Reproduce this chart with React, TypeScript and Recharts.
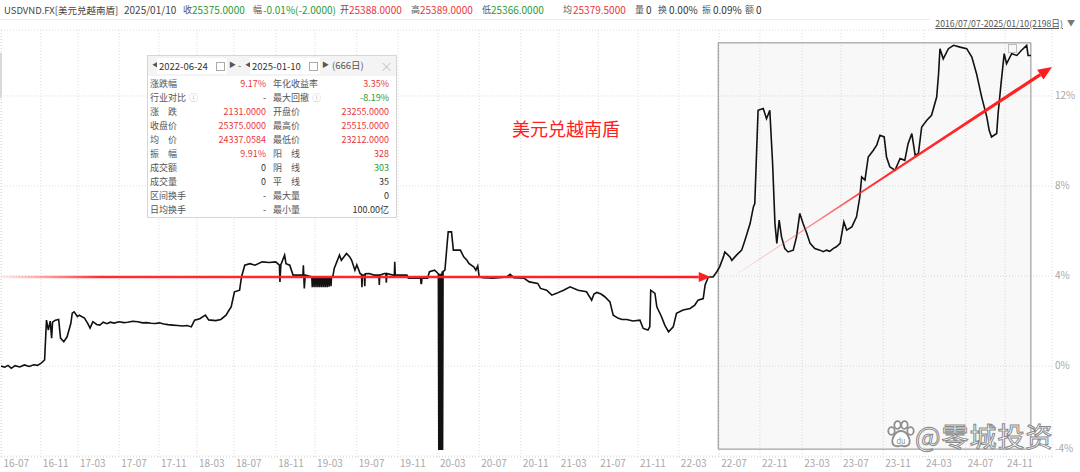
import React from "react";
import {
  ComposedChart,
  Line,
  XAxis,
  YAxis,
  CartesianGrid,
  ReferenceArea,
  ReferenceLine,
} from "recharts";

// trading-day index since 2016/07/07 and % change vs the first close
const dayIdx = [
  0, 8, 15, 22, 30, 40, 50, 60, 70, 78, 85, 93, 97, 101, 105, 108, 110, 116, 123, 127,
  134, 141, 149, 152, 156, 163, 167, 178, 185, 190, 196, 204, 211, 218, 226, 233, 241, 252, 262, 270, 281, 292, 302, 311,
  320, 329, 338, 347, 356, 366, 377, 388, 397, 406, 413, 424, 436, 443, 458, 469, 480, 487, 491, 498, 509, 513, 520, 531, 542,
  557, 572, 586, 594, 595, 597, 605, 608, 616, 623, 644, 645, 647, 649,
  663, 664, 665, 667, 668, 669, 671, 672, 673, 675, 676, 677, 679, 680, 681, 683, 684, 685,
  687, 688, 689, 691, 692, 693, 695, 696, 697, 699, 700, 701, 703, 704, 705,
  708, 711, 722, 726, 737, 744, 748, 755, 759, 766,
  769, 770, 771, 775, 776, 777, 785, 796, 806, 807, 808, 818, 821, 822, 823, 836, 839, 840, 841, 855, 866, 869, 895, 896, 897, 898,
  910, 914, 925, 933, 934, 935, 936, 937, 938, 939, 940, 941, 942, 943, 947, 952, 954, 961, 965, 980,
  987, 994, 998, 1009, 1013, 1017, 1020, 1028, 1050, 1079, 1086, 1094, 1116, 1127, 1145, 1151, 1164, 1175, 1185, 1200,
  1214, 1231, 1249, 1260, 1265, 1271, 1280, 1288, 1299, 1306, 1317, 1325, 1335, 1348, 1363, 1370, 1380, 1384, 1386, 1395,
  1399, 1409, 1416, 1424, 1434, 1441, 1455, 1470, 1480, 1487, 1498, 1502, 1509, 1519, 1527, 1533, 1541, 1544, 1555, 1559,
  1569, 1580, 1587, 1598, 1605, 1608, 1615, 1626, 1633, 1640, 1646, 1651, 1655, 1660, 1665, 1672, 1679, 1690, 1697, 1704,
  1711, 1719, 1726, 1736, 1747, 1754, 1761, 1768, 1775, 1782, 1790, 1798, 1804, 1815, 1825, 1832, 1836, 1843, 1850, 1861, 1868, 1875, 1884,
  1889, 1896, 1907, 1918, 1928, 1935, 1943, 1950, 1957, 1964, 1975, 1985, 1996, 2000, 2003, 2010, 2021, 2032, 2046, 2060,
  2071, 2081, 2092, 2103, 2108, 2113, 2124, 2127, 2134, 2140, 2145, 2156, 2167, 2177, 2188, 2191, 2197,
];

const pctChg = [
  0.0, -0.05, 0.03, -0.1, 0.02, -0.04, 0.05, -0.02, 0.06, 0.03, 0.12, 0.27, 2.04, 1.6, 2.0, 1.24, 1.95, 2.04, 2.07, 1.24,
  1.08, 1.3, 1.9, 2.35, 2.41, 2.2, 2.26, 2.13, 1.9, 1.69, 1.97, 1.85, 1.82, 1.95, 1.88, 1.95, 1.91, 1.97, 1.93, 1.95, 1.99, 1.97, 1.92, 1.93,
  1.9, 1.89, 1.92, 1.87, 1.84, 1.82, 1.8, 1.78, 1.8, 1.74, 2.04, 2.1, 2.26, 2.05, 2.02, 2.07, 2.26, 2.5, 2.63, 3.3, 3.37, 3.96, 4.48, 4.55, 4.48,
  4.63, 4.6, 4.63, 4.48, 3.74, 4.5, 4.93, 4.55, 4.48, 4.04, 4.04, 4.48, 3.45, 4.04,
  3.96, 3.5, 3.96, 3.96, 3.5, 3.96, 3.96, 3.5, 3.96, 3.96, 3.5, 3.96, 3.96, 3.5, 3.96, 3.96, 3.5, 3.96,
  3.96, 3.5, 3.96, 3.96, 3.5, 3.96, 3.96, 3.5, 3.96, 3.96, 3.52, 3.96, 3.96, 3.55, 3.96,
  4.0, 4.35, 4.93, 4.7, 5.0, 4.85, 4.7, 4.26, 4.5, 4.11,
  4.08, 3.5, 4.04, 4.04, 3.55, 4.1, 4.11, 4.04, 4.04, 3.6, 4.04, 4.11, 4.11, 3.7, 4.11, 4.04, 4.04, 4.63, 4.04, 4.04, 4.04, 3.9, 3.9, 3.67, 3.67, 3.9,
  3.9, 4.19, 4.26, 4.1, -3.73, 4.1, -3.73, 4.1, -3.73, 4.1, -3.73, 4.2, -3.73, 4.2, 4.26, 5.5, 5.96, 5.96, 5.15, 5.15,
  4.85, 4.7, 4.56, 4.4, 4.26, 4.45, 3.96, 3.93, 3.9, 3.96, 4.08, 3.93, 3.9, 3.74, 3.67, 3.45, 3.37, 3.15, 3.23, 3.37,
  3.52, 3.37, 3.3, 2.93, 3.2, 3.27, 3.2, 3.08, 2.85, 2.26, 2.12, 2.07, 2.07, 2.0, 2.04, 1.67, 1.6, 1.75, 3.37, 3.23,
  2.63, 2.19, 1.82, 1.52, 1.74, 2.34, 2.49, 2.56, 2.71, 2.93, 3.0, 3.6, 3.96, 3.96, 4.19, 4.41, 4.85, 5.07, 4.85, 4.7,
  4.93, 5.15, 5.59, 6.33, 7.07, 7.22, 11.36, 11.44, 10.99, 11.36, 9.0, 6.33, 5.45, 6.48, 5.74, 5.22, 5.07, 5.15, 5.74, 6.78,
  6.33, 5.89, 5.45, 5.22, 5.15, 5.08, 5.15, 5.1, 5.22, 5.3, 5.45, 6.4, 6.04, 6.18, 6.63, 7.51, 8.4, 8.26, 9.29, 9.59, 9.81, 10.25, 10.18,
  9.29, 8.85, 8.7, 9.22, 9.14, 9.88, 10.33, 9.37, 9.44, 10.62, 10.92, 11.14, 11.95, 12.98, 14.1, 13.65, 14.1, 14.25, 14.17, 14.1,
  13.73, 12.99, 11.95, 11.06, 10.47, 10.18, 10.33, 11.22, 12.69, 13.88, 13.43, 13.88, 13.8, 14.03, 14.25, 13.8, 13.8,
];

const tickIdx = [
  1, 85, 164, 252, 337, 418, 497, 587, 670, 759, 847, 932, 1020, 1109, 1190, 1274, 1359, 1446, 1532, 1619,
  1709, 1792, 1882, 1969, 2058, 2142,
];
const tickLabels = [
  "16-07", "16-11", "17-03", "17-07", "17-11", "18-03", "18-07", "18-11", "19-03", "19-07", "19-11", "20-03", "20-07",
  "20-11", "21-03", "21-07", "21-11", "22-03", "22-07", "22-11", "23-03", "23-07", "23-11", "24-03", "24-07", "24-11",
];
const yTicks = [-4, 0, 4, 8, 12];

// selected interval 2022-06-24 .. 2025-01-10
const selStart = 1530;
const selEnd = 2197;

// header quote
const quoteNames = ["收", "幅", "开", "高", "低", "均", "量", "换", "振", "额"];
const quoteValues = ["25375.0000", "-0.01%(-2.0000)", "25388.0000", "25389.0000", "25366.0000", "25379.5000", "0", "0.00%", "0.09%", "0"];
const quoteDir = ["down", "down", "up", "up", "down", "up", "flat", "flat", "flat", "flat"];

// interval statistics panel
const statNamesL = ["涨跌幅", "行业对比", "涨　跌", "收盘价", "均　价", "振　幅", "成交额", "成交量", "区间换手", "日均换手"];
const statValuesL = ["9.17%", "-", "2131.0000", "25375.0000", "24337.0584", "9.91%", "0", "0", "-", "-"];
const statDirL = ["up", "flat", "up", "up", "up", "up", "flat", "flat", "flat", "flat"];
const statNamesR = ["年化收益率", "最大回撤", "开盘价", "最高价", "最低价", "阳　线", "阴　线", "平　线", "最大量", "最小量"];
const statValuesR = ["3.35%", "-8.19%", "23255.0000", "25515.0000", "23212.0000", "328", "303", "35", "0", "100.00亿"];
const statDirR = ["up", "down", "up", "up", "up", "up", "down", "flat", "flat", "flat"];

const FONT = '"Noto Sans CJK SC", "Noto Sans", sans-serif';
const RED = "#e8363b";
const GREEN = "#2a9a35";
const dirColor = (d: string) => (d === "up" ? RED : d === "down" ? GREEN : "#333");

const series = dayIdx.map((i, k) => ({ i, v: pctChg[k] }));
const labelOf = (v: number) => {
  const k = tickIdx.indexOf(Number(v));
  return k >= 0 ? tickLabels[k] : "";
};

const XTick = (props: any) => {
  const { x, y, payload } = props;
  return (
    <text x={x + 2} y={y + 7} fill="#a8a8a8" fontSize={10} fontFamily={FONT} textAnchor="start" dominantBaseline="middle">
      {labelOf(payload.value)}
    </text>
  );
};

const YTick = (props: any) => {
  const { x, y, payload } = props;
  const dy = payload.value === yTicks[0] ? -7 : 0;
  return (
    <text x={x + 3} y={y + dy} fill="#a8a8a8" fontSize={10} fontFamily={FONT} textAnchor="start" dominantBaseline="middle">
      {payload.value}%
    </text>
  );
};

// red arrow drawn along a reference segment; fades in from the start
const makeArrow = (id: string, w0: number, w1: number, fadeStop: number, head: number) => (p: any) => {
  const { x1, y1, x2, y2 } = p;
  const dx = x2 - x1;
  const dy = y2 - y1;
  const len = Math.sqrt(dx * dx + dy * dy) || 1;
  const ux = dx / len;
  const uy = dy / len;
  const nx = -uy;
  const ny = ux;
  const bx = x2 - ux * head;
  const by = y2 - uy * head;
  const body = [
    [x1 + (nx * w0) / 2, y1 + (ny * w0) / 2],
    [bx + (nx * w1) / 2, by + (ny * w1) / 2],
    [bx - (nx * w1) / 2, by - (ny * w1) / 2],
    [x1 - (nx * w0) / 2, y1 - (ny * w0) / 2],
  ];
  const hw = head * 0.42;
  const tip = [
    [x2, y2],
    [bx + nx * hw, by + ny * hw],
    [bx - nx * hw, by - ny * hw],
  ];
  const pts = (a: number[][]) => a.map((q) => q.join(",")).join(" ");
  return (
    <g>
      <defs>
        <linearGradient id={id} gradientUnits="userSpaceOnUse" x1={x1} y1={y1} x2={x2} y2={y2}>
          <stop offset="0" stopColor="#ff3b3b" stopOpacity={0.08} />
          <stop offset={fadeStop} stopColor="#ff2424" stopOpacity={0.95} />
          <stop offset="1" stopColor="#ff1e1e" stopOpacity={1} />
        </linearGradient>
      </defs>
      <polygon points={pts(body)} fill={`url(#${id})`} />
      <polygon points={pts(tip)} fill="#ff1e1e" />
    </g>
  );
};

const Paw = () => (
  <svg width="30" height="28" viewBox="0 0 30 28" style={{ position: "absolute", left: 886, top: 420 }}>
    <g fill="#fff" stroke="#8f8f8f" strokeWidth="1.8">
      <ellipse cx="5.5" cy="11" rx="3.2" ry="3.8" />
      <ellipse cx="11.5" cy="5" rx="3.2" ry="3.8" />
      <ellipse cx="18.5" cy="5" rx="3.2" ry="3.8" />
      <ellipse cx="24.5" cy="11" rx="3.2" ry="3.8" />
      <path d="M15 11 C9 11 5.5 19 6.5 23 C7.5 27 13 26.5 15 25.5 C17 26.5 22.5 27 23.5 23 C24.5 19 21 11 15 11 Z" />
    </g>
    <text x="15" y="23.5" textAnchor="middle" fontSize="7.5" fontFamily={FONT} fill="#8f8f8f">du</text>
  </svg>
);

const quoteNameLeft = [183, 253, 340, 411, 482, 563, 635, 658, 702, 745];
const quoteValLeft = [192, 263, 349, 420, 491, 573, 646, 669, 713, 756];

const App: React.FC = () => (
  <div style={{ position: "absolute", left: 0, top: 0, width: 1080, height: 472, background: "#fff", fontFamily: FONT, overflow: "hidden" }}>
    {/* quote strip */}
    <div style={{ position: "absolute", left: 0, top: 0, width: 1080, height: 20, fontSize: 10, lineHeight: "20px", color: "#444", whiteSpace: "nowrap" }}>
      <span style={{ position: "absolute", left: 4, fontSize: 9.5 }}>USDVND.FX[美元兑越南盾]</span>
      <span style={{ position: "absolute", left: 124 }}>2025/01/10</span>
      {quoteNames.map((n, k) => (
        <React.Fragment key={n}>
          <span style={{ position: "absolute", left: quoteNameLeft[k], color: "#555", fontSize: 9 }}>{n}</span>
          <span style={{ position: "absolute", left: quoteValLeft[k], color: dirColor(quoteDir[k]) }}>{quoteValues[k]}</span>
        </React.Fragment>
      ))}
    </div>
    <div style={{ position: "absolute", left: 0, top: 19, width: 930, height: 1, background: "#ececec" }} />
    <div style={{ position: "absolute", right: 17, top: 17, fontSize: 8.7, color: "#555", textDecoration: "underline", whiteSpace: "nowrap" }}>
      2016/07/07-2025/01/10(2198日)
    </div>
    <div style={{ position: "absolute", left: 1067, top: 17, fontSize: 8, color: "#777" }}>▼</div>
    <div style={{ position: "absolute", left: 0, top: 53, width: 2, height: 45, background: "#d8d8d8" }} />

    <div style={{ position: "absolute", left: 0, top: 0 }}>
      <ComposedChart width={1080} height={472} data={series} margin={{ top: 30, right: 0, bottom: 0, left: 1 }}>
        <CartesianGrid stroke="#dcdcdc" strokeDasharray="1 2" />
        <XAxis
          dataKey="i"
          type="number"
          domain={[0, 2242]}
          ticks={tickIdx}
          interval={0}
          tick={<XTick />}
          tickLine={false}
          axisLine={false}
          tickSize={0}
          tickMargin={0}
          height={15}
          allowDataOverflow
        />
        <YAxis
          orientation="right"
          type="number"
          domain={[-4.04, 14.93]}
          ticks={yTicks}
          interval={0}
          tick={<YTick />}
          tickLine={false}
          axisLine={false}
          tickSize={0}
          tickMargin={0}
          width={28}
          allowDataOverflow
        />
        <ReferenceArea
          x1={selStart}
          x2={selEnd}
          y1={-3.69}
          y2={14.36}
          fill="#000"
          fillOpacity={0.028}
          stroke="#8c8c8c"
          strokeWidth={1}
          ifOverflow="visible"
        />
        <Line
          dataKey="v"
          type="linear"
          stroke="#111"
          strokeWidth={1.6}
          dot={false}
          activeDot={false}
          isAnimationActive={false}
        />
        <ReferenceLine
          segment={[{ x: 0, y: 3.96 }, { x: 1514, y: 3.96 }]}
          ifOverflow="visible"
          shape={makeArrow("arrowA", 2.6, 2.6, 0.14, 12)}
        />
        <ReferenceLine
          segment={[{ x: 1566, y: 4.04 }, { x: 2242, y: 13.29 }]}
          ifOverflow="visible"
          shape={makeArrow("arrowB", 0.6, 3.4, 0.45, 14)}
        />
      </ComposedChart>
    </div>

    <div style={{ position: "absolute", left: 1008, top: 44, width: 7, height: 7, border: "1px solid #bdbdbd" }} />

    <div style={{ position: "absolute", left: 512, top: 115, fontSize: 18, color: "#ff2020", whiteSpace: "nowrap" }}>美元兑越南盾</div>

    {/* interval statistics panel */}
    <div style={{ position: "absolute", left: 147, top: 55, width: 250, height: 163, border: "1px solid #d6d6d6", background: "#fff", boxSizing: "border-box", fontSize: 9, color: "#555" }}>
      <div style={{ position: "relative", height: 20, background: "#f4f4f4", whiteSpace: "nowrap", fontSize: 9.5 }}>
        <span style={{ position: "absolute", left: 4, top: 3, fontSize: 7, color: "#555" }}>◀</span>
        <div style={{ position: "absolute", left: 9, top: 2, width: 70, height: 16, background: "#fff", boxSizing: "border-box", paddingLeft: 2, lineHeight: "16px", color: "#333" }}>
          2022-06-24
          <span style={{ position: "absolute", right: 2, top: 4, width: 7, height: 7, border: "1px solid #aaa" }} />
        </div>
        <span style={{ position: "absolute", left: 81, top: 3, fontSize: 7, color: "#555" }}>▶</span>
        <span style={{ position: "absolute", left: 90, top: 2, color: "#666" }}>-</span>
        <span style={{ position: "absolute", left: 97, top: 3, fontSize: 7, color: "#555" }}>◀</span>
        <div style={{ position: "absolute", left: 102, top: 2, width: 70, height: 16, background: "#fff", boxSizing: "border-box", paddingLeft: 2, lineHeight: "16px", color: "#333" }}>
          2025-01-10
          <span style={{ position: "absolute", right: 2, top: 4, width: 7, height: 7, border: "1px solid #aaa" }} />
        </div>
        <span style={{ position: "absolute", left: 174, top: 3, fontSize: 7, color: "#555" }}>▶</span>
        <span style={{ position: "absolute", left: 184, top: 2, color: "#555" }}>(666日)</span>
        <span style={{ position: "absolute", left: 232, top: 0, fontSize: 13, color: "#c8c8c8" }}>×</span>
      </div>
      {statNamesL.map((n, k) => (
        <div key={n} style={{ position: "relative", height: 14, lineHeight: "14px", whiteSpace: "nowrap", marginTop: k === 0 ? 1 : 0 }}>
          <span style={{ position: "absolute", left: 2 }}>
            {n}
            {k === 1 ? <span style={{ color: "#bbb", marginLeft: 3 }}>ⓘ</span> : null}
          </span>
          <span style={{ position: "absolute", right: 130, color: dirColor(statDirL[k]) }}>{statValuesL[k]}</span>
          <span style={{ position: "absolute", left: 125 }}>
            {statNamesR[k]}
            {k === 1 ? <span style={{ color: "#bbb", marginLeft: 3 }}>ⓘ</span> : null}
          </span>
          <span style={{ position: "absolute", right: 7, color: dirColor(statDirR[k]) }}>{statValuesR[k]}</span>
        </div>
      ))}
    </div>

    {/* watermark */}
    <Paw />
    <div
      style={{
        position: "absolute",
        left: 915,
        top: 416,
        fontSize: 27,
        color: "#fff",
        whiteSpace: "nowrap",
        WebkitTextStroke: "1px #8a8a8a",
        letterSpacing: 1,
      }}
    >
      @零城投资
    </div>
  </div>
);

export default App;
